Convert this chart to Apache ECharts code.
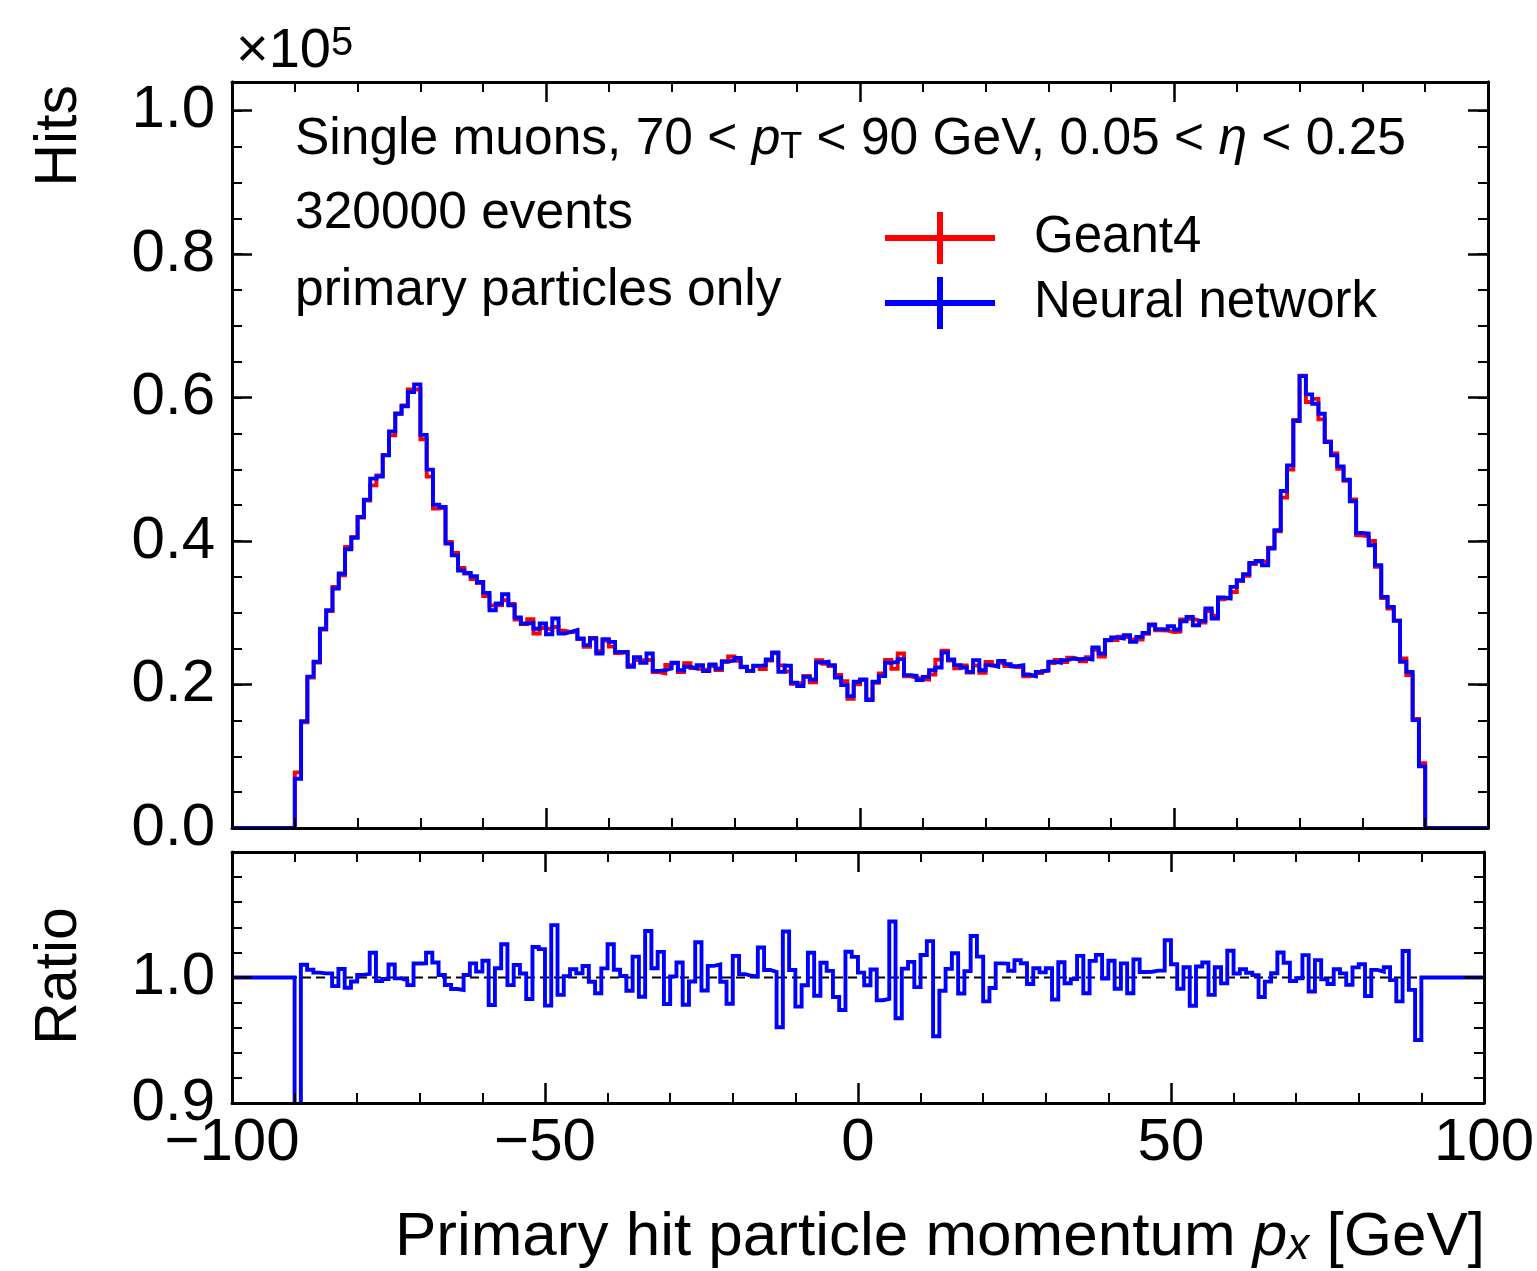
<!DOCTYPE html>
<html>
<head>
<meta charset="utf-8">
<script src="https://cdn.jsdelivr.net/npm/echarts@6/dist/echarts.min.js"></script>
<style>
  html, body { margin: 0; padding: 0; background: #fff; }
  #chart { width: 1537px; height: 1271px; }
</style>
</head>
<body>
<div id="chart"></div>
<script>
// Histogram binning (GeV)
const axisRange = [-100, 100];
const binLow = -90;     // lower edge of the first filled bin
const binWidth = 1;

// Hits per 1 GeV bin, in units of 1e5, bins from -90 to 90 GeV
const geant4 = [
  0.0776, 0.1475, 0.2097, 0.2308, 0.2768, 0.3026, 0.3361, 0.3523, 0.3918, 0.4057,
  0.4327, 0.4565, 0.4776, 0.4914, 0.5201, 0.5473, 0.5779, 0.5892, 0.6114, 0.6116,
  0.5419, 0.4899, 0.4455, 0.4466, 0.3989, 0.3835, 0.3625, 0.3549, 0.3471, 0.3414,
  0.3235, 0.3104, 0.3107, 0.3175, 0.3125, 0.2905, 0.2842, 0.2910, 0.2711, 0.2788,
  0.2764, 0.2803, 0.2749, 0.2731, 0.2740, 0.2633, 0.2526, 0.2651, 0.2464, 0.2613,
  0.2528, 0.2440, 0.2452, 0.2271, 0.2341, 0.2339, 0.2346, 0.2175, 0.2156, 0.2272,
  0.2301, 0.2174, 0.2297, 0.2231, 0.2208, 0.2210, 0.2259, 0.2201, 0.2325, 0.2390,
  0.2332, 0.2241, 0.2188, 0.2259, 0.2217, 0.2336, 0.2436, 0.2267, 0.2181, 0.2012,
  0.2025, 0.2120, 0.2030, 0.2341, 0.2290, 0.2258, 0.2132, 0.2045, 0.1801, 0.2005,
  0.2062, 0.1794, 0.2025, 0.2156, 0.2343, 0.2218, 0.2433, 0.2116, 0.2095, 0.2077,
  0.2070, 0.2138, 0.2348, 0.2473, 0.2334, 0.2227, 0.2267, 0.2166, 0.2265, 0.2164,
  0.2314, 0.2266, 0.2304, 0.2259, 0.2244, 0.2239, 0.2116, 0.2128, 0.2161, 0.2191,
  0.2300, 0.2344, 0.2312, 0.2374, 0.2353, 0.2323, 0.2380, 0.2484, 0.2390, 0.2620,
  0.2621, 0.2666, 0.2658, 0.2628, 0.2627, 0.2708, 0.2824, 0.2757, 0.2752, 0.2732,
  0.2738, 0.2909, 0.2919, 0.2892, 0.2863, 0.3024, 0.2961, 0.3187, 0.3214, 0.3291,
  0.3443, 0.3515, 0.3681, 0.3716, 0.3721, 0.3909, 0.4136, 0.4606, 0.4997, 0.5689,
  0.6304, 0.5939, 0.5982, 0.5696, 0.5388, 0.5222, 0.5009, 0.4840, 0.4581, 0.4080,
  0.4061, 0.4001, 0.3641, 0.3207, 0.3058, 0.2894, 0.2362, 0.2132, 0.1519, 0.0904
];

const neuralNetwork = [
  0.0687, 0.1490, 0.2110, 0.2317, 0.2777, 0.3036, 0.3338, 0.3547, 0.3886, 0.4044,
  0.4336, 0.4578, 0.4870, 0.4900, 0.5195, 0.5530, 0.5775, 0.5880, 0.6077, 0.6184,
  0.5480, 0.4996, 0.4508, 0.4475, 0.3965, 0.3800, 0.3589, 0.3556, 0.3510, 0.3430,
  0.3278, 0.3036, 0.3130, 0.3259, 0.3106, 0.2934, 0.2851, 0.2860, 0.2777, 0.2851,
  0.2702, 0.2920, 0.2711, 0.2734, 0.2758, 0.2642, 0.2549, 0.2642, 0.2433, 0.2632,
  0.2595, 0.2455, 0.2455, 0.2247, 0.2380, 0.2303, 0.2433, 0.2191, 0.2200, 0.2224,
  0.2303, 0.2200, 0.2247, 0.2224, 0.2270, 0.2187, 0.2280, 0.2224, 0.2317, 0.2340,
  0.2372, 0.2247, 0.2191, 0.2261, 0.2270, 0.2350, 0.2447, 0.2177, 0.2261, 0.2024,
  0.1978, 0.2107, 0.2070, 0.2307, 0.2317, 0.2270, 0.2099, 0.1992, 0.1838, 0.2038,
  0.2070, 0.1783, 0.2038, 0.2117, 0.2303, 0.2317, 0.2354, 0.2131, 0.2121, 0.2061,
  0.2107, 0.2200, 0.2238, 0.2447, 0.2350, 0.2270, 0.2238, 0.2177, 0.2340, 0.2200,
  0.2270, 0.2247, 0.2330, 0.2284, 0.2256, 0.2270, 0.2140, 0.2117, 0.2177, 0.2200,
  0.2317, 0.2303, 0.2340, 0.2363, 0.2350, 0.2363, 0.2350, 0.2517, 0.2433, 0.2618,
  0.2656, 0.2642, 0.2688, 0.2595, 0.2665, 0.2720, 0.2837, 0.2772, 0.2767, 0.2813,
  0.2767, 0.2883, 0.2943, 0.2827, 0.2888, 0.3060, 0.2920, 0.3213, 0.3199, 0.3361,
  0.3454, 0.3538, 0.3695, 0.3723, 0.3663, 0.3896, 0.4150, 0.4698, 0.5056, 0.5673,
  0.6300, 0.6045, 0.5915, 0.5775, 0.5380, 0.5195, 0.5042, 0.4856, 0.4554, 0.4113,
  0.4104, 0.3942, 0.3663, 0.3222, 0.3083, 0.2888, 0.2317, 0.2177, 0.1504, 0.0859
];

// Axis ticks and ranges
const xTicks = { min: -100, max: 100, major: 50, minorSplit: 5 };
const yMain = { min: 0, max: 1.04, major: 0.2, minor: 0.05 };
const yRatio = { min: 0.9, max: 1.1, major: 0.1, minorSplit: 5 };

const FONT = '"Liberation Sans", Arial, Helvetica, sans-serif';
const BLACK = '#000000';
const RED = '#ff0000';
const BLUE = '#0000ff';

// NN / Geant4 per bin; empty bins are drawn at 1
const ratio = neuralNetwork.map((v, i) => v / geant4[i]);

// Step-line points at bin lower edges over the full axis range
function histogramPoints(values, emptyValue) {
  const pts = [];
  for (let e = axisRange[0]; e < axisRange[1]; e += binWidth) {
    const i = Math.round((e - binLow) / binWidth);
    const v = (i >= 0 && i < values.length) ? values[i] : emptyValue;
    pts.push([e, v]);
  }
  pts.push([axisRange[1], pts[pts.length - 1][1]]);
  return pts;
}

const minus = s => String(s).replace('-', '\u2212');

const frameLine = { show: true, onZero: false, lineStyle: { color: BLACK, width: 3 } };
const majorTick = { show: true, inside: true, length: 20, lineStyle: { color: BLACK, width: 2.5 } };
const minorTickStyle = { show: true, splitNumber: 5, length: 10, lineStyle: { color: BLACK, width: 2 } };
const tickLabel = { fontFamily: FONT, fontSize: 60, color: BLACK };

function xAxis(gridIndex, position, labels) {
  return {
    type: 'value', gridIndex, position, z: 5,
    min: xTicks.min, max: xTicks.max, interval: xTicks.major,
    axisLine: frameLine, axisTick: majorTick,
    minorTick: Object.assign({}, minorTickStyle, { splitNumber: xTicks.minorSplit }),
    splitLine: { show: false }, minorSplitLine: { show: false },
    axisLabel: labels
      ? Object.assign({ show: true, margin: 10, formatter: v => minus(v) }, tickLabel)
      : { show: false }
  };
}

function yMainAxis(position, major) {
  return {
    type: 'value', gridIndex: 0, position, z: 5,
    min: yMain.min, max: yMain.max,
    interval: major ? yMain.major : yMain.minor,
    axisLine: frameLine,
    axisTick: major ? majorTick : Object.assign({}, majorTick, { length: 10, lineStyle: { color: BLACK, width: 2 } }),
    splitLine: { show: false },
    axisLabel: (major && position === 'left')
      ? Object.assign({ show: true, margin: 17, showMaxLabel: false, formatter: v => v.toFixed(1) }, tickLabel)
      : { show: false }
  };
}

function yRatioAxis(position) {
  return {
    type: 'value', gridIndex: 1, position, z: 5,
    min: yRatio.min, max: yRatio.max, interval: yRatio.major,
    axisLine: frameLine, axisTick: majorTick,
    minorTick: Object.assign({}, minorTickStyle, { splitNumber: yRatio.minorSplit }),
    splitLine: { show: false }, minorSplitLine: { show: false },
    axisLabel: position === 'left'
      ? Object.assign({ show: true, margin: 17, showMaxLabel: false, formatter: v => v.toFixed(1) }, tickLabel)
      : { show: false }
  };
}

const stepLine = (name, color, data, xi, yi, z) => ({
  name, type: 'line', xAxisIndex: xi, yAxisIndex: yi, data,
  step: 'end', showSymbol: false, symbol: 'none', clip: true, z,
  color, itemStyle: { color },
  lineStyle: { color, width: 3.9, join: 'miter' },
  emphasis: { disabled: true }, silent: true
});

const legendIcon = 'path://M0,23H110V29H0Z M52,0H58V52H52Z';

const option = {
  animation: false,
  backgroundColor: '#ffffff',
  grid: [
    { left: 232, right: 49, top: 82, height: 746, containLabel: false },
    { left: 232, right: 49, top: 852, height: 251, containLabel: false }
  ],
  xAxis: [
    xAxis(0, 'bottom', false),
    xAxis(0, 'top', false),
    xAxis(1, 'bottom', true),
    xAxis(1, 'top', false)
  ],
  yAxis: [
    yMainAxis('left', true),
    yMainAxis('left', false),
    yMainAxis('right', true),
    yMainAxis('right', false),
    yRatioAxis('left'),
    yRatioAxis('right')
  ],
  legend: {
    show: true,
    orient: 'vertical',
    left: 885, top: 212, padding: 0,
    itemWidth: 110, itemHeight: 52, itemGap: 13,
    icon: legendIcon,
    itemStyle: { borderWidth: 0 },
    textStyle: { fontFamily: FONT, fontSize: 51, color: BLACK, lineHeight: 52, padding: [0, 0, 0, 34] },
    data: ['Geant4', 'Neural network'],
    selectedMode: false
  },
  series: [
    stepLine('Geant4', RED, histogramPoints(geant4, 0), 0, 0, 2),
    stepLine('Neural network', BLUE, histogramPoints(neuralNetwork, 0), 0, 0, 3),
    {
      name: 'unity', type: 'line', xAxisIndex: 2, yAxisIndex: 4,
      data: [[axisRange[0], 1], [axisRange[1], 1]],
      showSymbol: false, symbol: 'none', z: 2, silent: true,
      lineStyle: { color: BLACK, width: 2, type: [9, 5] }
    },
    stepLine('ratio', BLUE, histogramPoints(ratio, 1), 2, 4, 3)
  ],
  graphic: [
    {
      type: 'text', x: 236, y: 52, silent: true,
      style: {
        text: '{a|\u00d710}{s|5}', verticalAlign: 'middle', textVerticalAlign: 'middle',
        rich: {
          a: { fontFamily: FONT, fontSize: 56, lineHeight: 56, fill: BLACK, color: BLACK, verticalAlign: 'bottom' },
          s: { fontFamily: FONT, fontSize: 40, lineHeight: 22, fill: BLACK, color: BLACK, verticalAlign: 'top' }
        }
      }
    },
    {
      type: 'text', x: 295, y: 140, silent: true,
      style: {
        text: '{a|Single muons, 70 < }{i|p}{s|T}{a| < 90 GeV, 0.05 < }{i|\u03b7}{a| < 0.25}',
        verticalAlign: 'middle', textVerticalAlign: 'middle',
        rich: {
          a: { fontFamily: FONT, fontSize: 51.5, lineHeight: 52, color: BLACK, verticalAlign: 'bottom' },
          i: { fontFamily: FONT, fontSize: 51.5, lineHeight: 52, color: BLACK, fontStyle: 'italic', verticalAlign: 'bottom' },
          s: { fontFamily: FONT, fontSize: 36, lineHeight: 20, color: BLACK, verticalAlign: 'bottom' }
        }
      }
    },
    {
      type: 'text', x: 295, y: 214, silent: true,
      style: { text: '320000 events', fontFamily: FONT, fontSize: 51.5, fill: BLACK, verticalAlign: 'middle', textVerticalAlign: 'middle' }
    },
    {
      type: 'text', x: 295, y: 291, silent: true,
      style: { text: 'primary particles only', fontFamily: FONT, fontSize: 51.5, fill: BLACK, verticalAlign: 'middle', textVerticalAlign: 'middle' }
    },
    {
      type: 'text', x: 60, y: 85, rotation: Math.PI / 2, silent: true,
      style: { text: 'Hits', fontFamily: FONT, fontSize: 59, fill: BLACK, align: 'right', textAlign: 'right', verticalAlign: 'middle', textVerticalAlign: 'middle' }
    },
    {
      type: 'text', x: 60, y: 976, rotation: Math.PI / 2, silent: true,
      style: { text: 'Ratio', fontFamily: FONT, fontSize: 59, fill: BLACK, align: 'center', textAlign: 'center', verticalAlign: 'middle', textVerticalAlign: 'middle' }
    },
    {
      type: 'text', x: 1485, y: 1238, silent: true,
      style: {
        text: '{a|Primary hit particle momentum }{i|p}{s|x}{a| [GeV]}',
        align: 'right', textAlign: 'right', verticalAlign: 'middle', textVerticalAlign: 'middle',
        rich: {
          a: { fontFamily: FONT, fontSize: 62, lineHeight: 62, color: BLACK, verticalAlign: 'bottom' },
          i: { fontFamily: FONT, fontSize: 62, lineHeight: 62, color: BLACK, fontStyle: 'italic', verticalAlign: 'bottom' },
          s: { fontFamily: FONT, fontSize: 44, lineHeight: 26, color: BLACK, fontStyle: 'italic', verticalAlign: 'bottom' }
        }
      }
    }
  ]
};

const chart = echarts.init(document.getElementById('chart'), null, { renderer: 'canvas', width: 1537, height: 1271 });
chart.setOption(option);
</script>
</body>
</html>
